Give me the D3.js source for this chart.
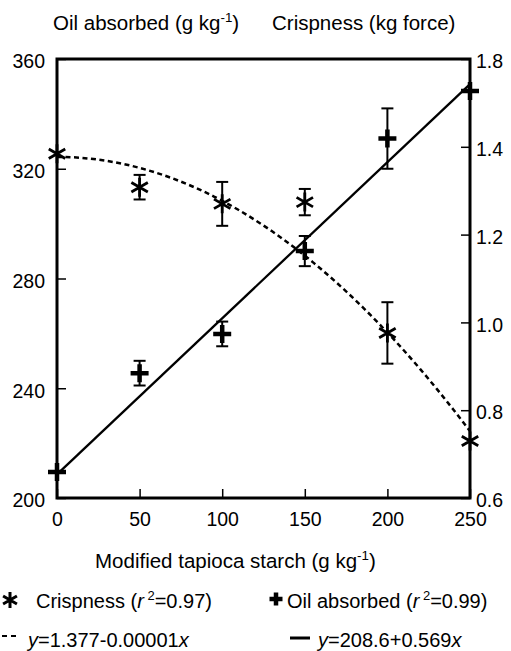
<!DOCTYPE html>
<html>
<head>
<meta charset="utf-8">
<script src="https://cdn.jsdelivr.net/npm/d3@7"></script>
<style>
  body { margin: 0; background: #fff; }
  text { font-family: "Liberation Sans", Arial, Helvetica, sans-serif; fill: #000; }
</style>
</head>
<body>
<div id="chart"></div>
<script>
// starch levels (g kg-1)
var starch = [0, 50, 100, 150, 200, 250];
// crispness (kg force) and its error bars
var crisp = [1.384, 1.308, 1.270, 1.274, 0.976, 0.730];
var crispErr = [0, 0.028, 0.05, 0.03, 0.07, 0];
// oil absorbed (g kg-1) and its error bars
var oil = [209.5, 245.5, 259.8, 290, 331, 348.3];
var oilErr = [0, 4.5, 4.5, 5.5, 11, 0];
// fitted equations printed in the legend
var crispFit = [1.377, 0.00001];   // y = a - b x^2
var oilFit = [208.6, 0.569];       // y = a + b x

var xTicks = [0, 50, 100, 150, 200, 250];
var leftTicks = [200, 240, 280, 320, 360];
var rightTicks = [0.6, 0.8, 1.0, 1.2, 1.4, 1.6];
var rightLabels = ["0.6", "0.8", "1.0", "1.2", "1.4", "1.8"];

var width = 511, height = 651;
var margin = {left: 57, right: 41, top: 59, bottom: 153};

var svg = d3.select("#chart").append("svg")
    .attr("width", width)
    .attr("height", height);

var x = d3.scaleLinear()
    .domain([0, 250])
    .range([margin.left, width - margin.right]);

var yL = d3.scaleLinear()
    .domain([200, 360])
    .range([height - margin.bottom, margin.top]);

var yR = d3.scaleLinear()
    .domain([0.6, 1.6])
    .range([height - margin.bottom, margin.top]);

// axes, ticks pointing inward
var gx = svg.append("g")
    .attr("transform", "translate(0," + (height - margin.bottom) + ")")
    .call(d3.axisBottom(x).tickValues(xTicks).tickSize(-9).tickPadding(14));

var gl = svg.append("g")
    .attr("transform", "translate(" + margin.left + ",0)")
    .call(d3.axisLeft(yL).tickValues(leftTicks).tickSize(-9).tickPadding(12));

var gr = svg.append("g")
    .attr("transform", "translate(" + (width - margin.right) + ",0)")
    .call(d3.axisRight(yR).tickValues(rightTicks).tickSize(-9).tickPadding(6)
      .tickFormat(function(d, i) { return rightLabels[i]; }));

[gx, gl, gr].forEach(function(g) {
  g.select(".domain").remove();
  g.selectAll(".tick line").attr("stroke", "#000").attr("stroke-width", 1.5);
  g.selectAll(".tick text").style("font-size", "19.5px").attr("fill", "#000");
});
gl.selectAll(".tick text").attr("dy", "0.45em");
gr.selectAll(".tick text").attr("dy", "0.45em");

// frame
svg.append("rect")
    .attr("x", x(0))
    .attr("y", yL(360))
    .attr("width", x(250) - x(0))
    .attr("height", yL(200) - yL(360))
    .attr("fill", "none")
    .attr("stroke", "#000")
    .attr("stroke-width", 3);

// fitted lines
var line = d3.line()
    .x(function(d) { return x(d[0]); })
    .y(function(d) { return d[1]; });

var crispCurve = d3.range(0, 251, 5).map(function(s) {
  return [s, yR(crispFit[0] - crispFit[1] * s * s)];
});
svg.append("path")
    .attr("d", line(crispCurve))
    .attr("fill", "none")
    .attr("stroke", "#000")
    .attr("stroke-width", 2.5)
    .attr("stroke-dasharray", "5,3.5");

var oilLine = [0, 250].map(function(s) { return [s, yL(oilFit[0] + oilFit[1] * s)]; });
svg.append("path")
    .attr("d", line(oilLine))
    .attr("fill", "none")
    .attr("stroke", "#000")
    .attr("stroke-width", 2.3);

// error bars
function errBars(vals, errs, y) {
  var g = svg.append("g").attr("stroke", "#000").attr("stroke-width", 2);
  vals.forEach(function(v, i) {
    if (!errs[i]) return;
    var cx = x(starch[i]), y1 = y(v - errs[i]), y2 = y(v + errs[i]);
    g.append("line").attr("x1", cx).attr("x2", cx).attr("y1", y1).attr("y2", y2);
    g.append("line").attr("x1", cx - 6).attr("x2", cx + 6).attr("y1", y1).attr("y2", y1);
    g.append("line").attr("x1", cx - 6).attr("x2", cx + 6).attr("y1", y2).attr("y2", y2);
  });
}
errBars(crisp, crispErr, yR);
errBars(oil, oilErr, yL);

// markers
function asterisk(cx, cy, r) {
  var p = "";
  [90, 30, 150].forEach(function(a) {
    var dx = r * Math.cos(a * Math.PI / 180), dy = r * Math.sin(a * Math.PI / 180);
    p += "M" + (cx - dx) + "," + (cy - dy) + "L" + (cx + dx) + "," + (cy + dy);
  });
  return p;
}
function plus(cx, cy, r) {
  return "M" + (cx - r) + "," + cy + "H" + (cx + r) + "M" + cx + "," + (cy - r) + "V" + (cy + r);
}

svg.append("g").selectAll("path")
  .data(crisp)
  .enter().append("path")
    .attr("d", function(d, i) { return asterisk(x(starch[i]), yR(d), 9.5); })
    .attr("stroke", "#000")
    .attr("stroke-width", 2.8);

svg.append("g").selectAll("path")
  .data(oil)
  .enter().append("path")
    .attr("d", function(d, i) { return plus(x(starch[i]), yL(d), 9); })
    .attr("stroke", "#000")
    .attr("stroke-width", 4.5);

// axis titles
function supText(xp, yp, parts, size) {
  var t = svg.append("text").attr("x", xp).attr("y", yp).style("font-size", size + "px");
  parts.forEach(function(p) {
    var ts = t.append("tspan").text(p.t);
    if (p.sup) ts.attr("dy", -size * 0.4).style("font-size", (size * 0.65) + "px");
    if (p.down) ts.attr("dy", size * 0.4);
    if (p.it) ts.style("font-style", "italic");
  });
  return t;
}

supText(53, 30, [{t: "Oil absorbed (g kg"}, {t: "-1", sup: true}, {t: ")", down: true}], 20.5);
svg.append("text").attr("x", 272).attr("y", 30).style("font-size", "20.5px")
    .text("Crispness (kg force)");
supText(95, 568, [{t: "Modified tapioca starch (g kg"}, {t: "-1", sup: true}, {t: ")", down: true}], 20.5);

// legend
svg.append("path")
    .attr("d", asterisk(10, 600, 8))
    .attr("stroke", "#000").attr("stroke-width", 3);
supText(36, 608, [{t: "Crispness ("}, {t: "r", it: true}, {t: " 2", sup: true}, {t: "=0.97)", down: true}], 20);

svg.append("path")
    .attr("d", plus(276, 599, 6.5))
    .attr("stroke", "#000").attr("stroke-width", 4.5);
supText(287, 608, [{t: "Oil absorbed ("}, {t: "r", it: true}, {t: " 2", sup: true}, {t: "=0.99)", down: true}], 20);

svg.append("line")
    .attr("x1", 2).attr("x2", 16).attr("y1", 636).attr("y2", 636)
    .attr("stroke", "#000").attr("stroke-width", 2).attr("stroke-dasharray", "5,4");
supText(28, 647, [{t: "y", it: true}, {t: "=1.377-0.00001"}, {t: "x", it: true}], 20);

svg.append("line")
    .attr("x1", 290).attr("x2", 310).attr("y1", 638).attr("y2", 638)
    .attr("stroke", "#000").attr("stroke-width", 3);
supText(318, 647, [{t: "y", it: true}, {t: "=208.6+0.569"}, {t: "x", it: true}], 20);
</script>
</body>
</html>
